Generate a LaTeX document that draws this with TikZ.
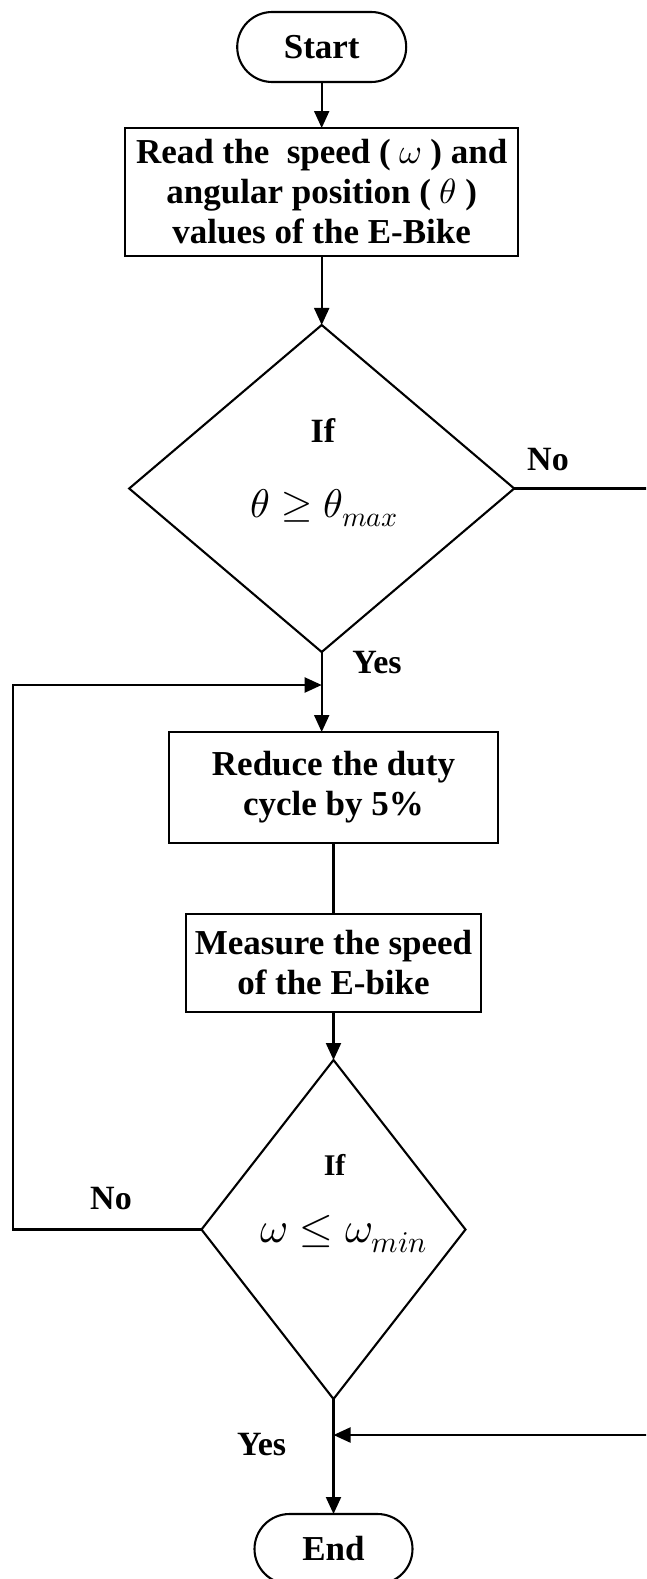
\documentclass[tikz,border=0pt]{standalone}
\usepackage{fontspec}
\usepackage{unicode-math}
\setmainfont{Liberation Serif}
\setmathfont{Latin Modern Math}
\usetikzlibrary{shapes.geometric,arrows.meta}
\begin{document}
\begin{tikzpicture}[x=1pt,y=-1pt,line width=2.1pt,
  box/.style={draw,rectangle,inner sep=0pt,outer sep=0pt,align=center,
    font=\bfseries\fontsize{35}{40}\selectfont},
  term/.style={box,rounded corners=35pt},
  dec/.style={draw,diamond,inner sep=0pt,outer sep=0pt},
  lbl/.style={inner sep=0pt,anchor=base,font=\bfseries\fontsize{34}{40}\selectfont},
  arr/.style={-{Triangle[length=17pt,width=15pt]}}]
\useasboundingbox (0,0) rectangle (646,1579);
\clip (0,0) rectangle (646,1579);

% nodes
\node[term,minimum width=169pt,minimum height=70pt] (start) at (321.7,47) {Start};
\node[box,minimum width=393pt,minimum height=128pt] (read) at (321.7,192)
  {Read the~ speed ( $\omega$ ) and\\angular position ( $\theta$ )\\values of the E-Bike};
\node[dec,minimum width=385pt,minimum height=327pt] (d1) at (321.7,488.5) {};
\node[box,minimum width=329pt,minimum height=111pt] (reduce) at (333.5,787.5)
  {Reduce the duty\\cycle by 5\%};
\node[box,minimum width=295pt,minimum height=98pt] (measure) at (333.5,963)
  {Measure the speed\\of the E-bike};
\node[dec,minimum width=264pt,minimum height=339pt] (d2) at (333.5,1229.5) {};
\node[term,minimum width=158pt,minimum height=70pt] (end) at (333.5,1549) {End};

% texts inside decisions
\node[lbl] (if1) at (322.8,442) {If};
\node[inner sep=0pt,anchor=base,font=\fontsize{40}{42}\selectfont] (m1) at (324.6,517)
  {$\theta \geq \theta_{max}$};
\node[inner sep=0pt,anchor=base,font=\bfseries\fontsize{30}{36}\selectfont] (if2) at (334.6,1175) {If};
\node[inner sep=0pt,anchor=base,font=\fontsize{43}{45}\selectfont] (m2) at (344,1242)
  {$\omega \leq \omega_{min}$};

% labels
\node[lbl] (no1) at (548,470) {No};
\node[lbl] (yes1) at (377,673) {Yes};
\node[lbl] (no2) at (111,1209) {No};
\node[lbl] (yes2) at (261.6,1455) {Yes};

% helper coordinates
\coordinate (lc) at (13,685);
\coordinate (lj) at (321.7,685);
\coordinate (rc) at (680,1435);
\coordinate (rj) at (333.5,1435);

% connectors
\draw[arr] (start) -- (read);
\draw[arr] (read) -- (d1);
\draw[arr] (d1.south) -- (d1.south |- reduce.north);
\draw (reduce) -- (measure);
\draw[arr] (measure) -- (d2);
\draw[arr] (d2.south) -- (end.north);
\draw[arr] (d2.west) -| (lc) -- (lj);
\draw[arr] (d1.east) -| (rc) -- (rj);
\end{tikzpicture}
\end{document}
